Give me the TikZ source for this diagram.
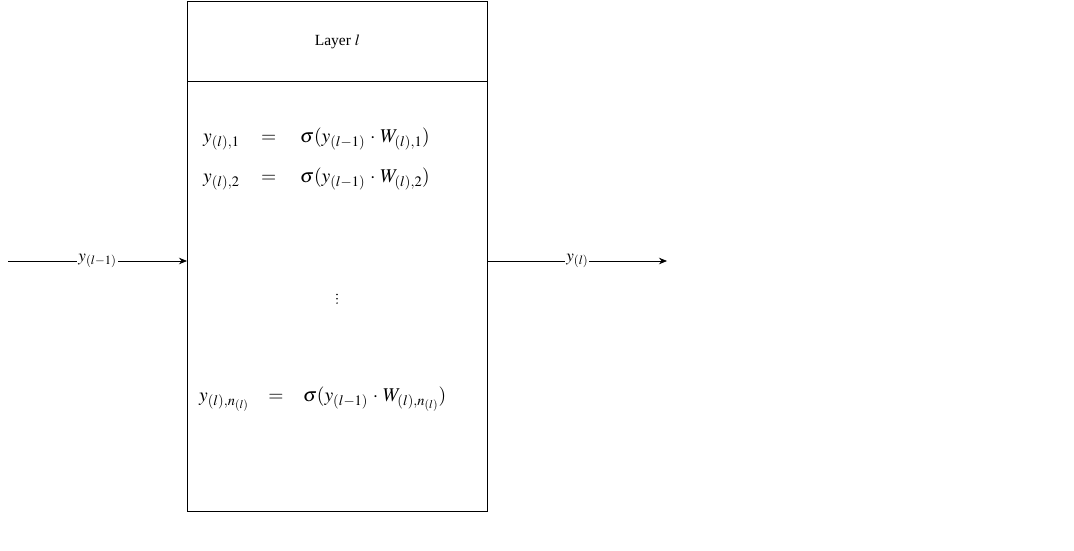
\documentclass[tikz,border=0pt]{standalone}
\usepackage{mathptmx}
\usepackage{fontspec}
\setmainfont{Liberation Serif}
\usetikzlibrary{arrows.meta}
\tikzset{
  box/.style={draw=black, line width=0.8pt},
  conn/.style={draw=black, line width=0.8pt, -{Stealth[length=8pt,width=6.5pt]}},
  lbl/.style={fill=white, inner sep=1pt, font=\fontsize{17}{19}\selectfont},
  eq/.style={anchor=base west, inner sep=0pt, font=\fontsize{19.5}{21}\selectfont},
  vdot/.style={fill=black, draw=none},
}
\begin{document}
\begin{tikzpicture}[x=1pt,y=-1pt]
\useasboundingbox (0,0) rectangle (1074,551);
\node[box, minimum width=300pt, minimum height=80pt, anchor=north west, inner sep=0pt] (head) at (187,1) {};
\node[box, minimum width=300pt, minimum height=430pt, anchor=north west, inner sep=0pt] (body) at (187,81) {};
\node[font=\fontsize{15.5}{17}\selectfont] (title) at (head.center) {Layer $l$};
\node[eq] (r1) at (203,142) {$y_{(l),1}\quad\!=\quad\sigma(y_{(l-1)}\,\cdot\,W_{(l),1})$};
\node[eq] (r2) at (203,182) {$y_{(l),2}\quad\!=\quad\sigma(y_{(l-1)}\,\cdot\,W_{(l),2})$};
\foreach \yy in {294.5,298.8,303.1} \fill[vdot] (337,\yy) circle (0.85pt);
\node[eq] (r3) at (199,401) {$y_{(l),n_{(l)}}\quad\!\!=\quad\!\!\sigma(y_{(l-1)}\,\cdot\,W_{(l),n_{(l)}})$};
\coordinate (in) at (8,261);
\coordinate (out) at (667,261);
\draw[conn] (in) -- node[lbl] (lin) {$y_{(l-1)}$} (in -| body.west);
\draw[conn] (body.east |- out) -- node[lbl] (lout) {$y_{(l)}$} (out);
\end{tikzpicture}
\end{document}
